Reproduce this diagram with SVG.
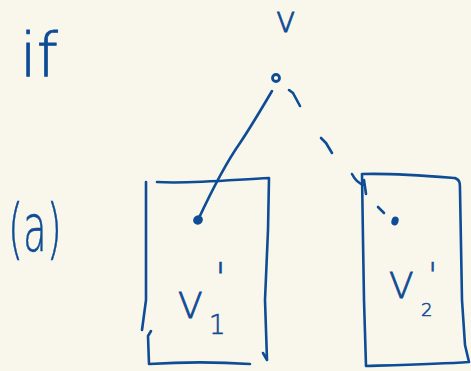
<svg xmlns="http://www.w3.org/2000/svg" width="471" height="371" viewBox="0 0 471 371">
<style>
.ink{fill:none;stroke:#0e4c95;stroke-width:2.6;stroke-linecap:round;stroke-linejoin:round}
.dot{fill:#0e4c95}
.t{fill:#0e4c95;font-family:"DejaVu Sans","Liberation Sans",sans-serif;font-weight:200}
</style>
<rect width="471" height="371" fill="#f9f7ec"/>
<g id="label-if"><text class="t" x="20" y="76" font-size="60" stroke="#0e4c95" stroke-width="0.8">if</text></g>
<g id="label-a"><text class="t" x="8" y="251" font-size="66" textLength="54" lengthAdjust="spacingAndGlyphs" stroke="#0e4c95" stroke-width="0.6">(a)</text></g>
<g id="node-u">
<text class="t" x="275" y="32" font-size="36" stroke="#0e4c95" stroke-width="0.8">v</text>
<circle cx="276" cy="78" r="3.5" fill="none" stroke="#0e4c95" stroke-width="2.8"/>
</g>
<g id="box-V1">
<path class="ink" d="M146,182 L146,230 L146,300 L142,330 M157,182 C190,184 230,180 269,178 L268,230 L265,300 L267,360 L263,353 M151,331 L148,336 L149,364 C180,362 220,362 250,364"/>
<text class="t" x="178" y="318" font-size="36" stroke="#0e4c95" stroke-width="0.8">V</text>
<text class="t" x="209" y="334" font-size="26" stroke="#0e4c95" stroke-width="0.6">1</text>
<text class="t" x="215" y="292" font-size="40" stroke="#0e4c95" stroke-width="0.6">'</text>
</g>
<g id="node-v1"><ellipse cx="198" cy="220" rx="5" ry="4.5" class="dot" transform="rotate(-30 198 220)"/></g>
<g id="box-V2">
<path class="ink" d="M362,174 C395,173 430,176 455,178 C460,180 460,183 460,190 L462,300 L465,345 L469,362 C440,364 400,365 366,366 L364,300 L363,240 L362,174"/>
<text class="t" x="389" y="298" font-size="36" stroke="#0e4c95" stroke-width="0.8">V</text>
<text class="t" x="421" y="316" font-size="18" stroke="#0e4c95" stroke-width="0.6">2</text>
<text class="t" x="428" y="287" font-size="34" stroke="#0e4c95" stroke-width="0.6">'</text>
</g>
<g id="node-v2"><ellipse cx="395" cy="221" rx="3.5" ry="4.5" class="dot" transform="rotate(20 395 221)"/></g>
<g id="connectors">
<path class="ink" d="M272,91 C262,108 250,128 240,143 C228,160 212,190 198,220"/>
<path class="ink" d="M289,90 L293,93 L300,106 M321,138 L326,143 L332,153 M352,174 C355,180 360,184 364,185 M364,180 L366,194 M378,207 L384,213"/>
</g>
</svg>
